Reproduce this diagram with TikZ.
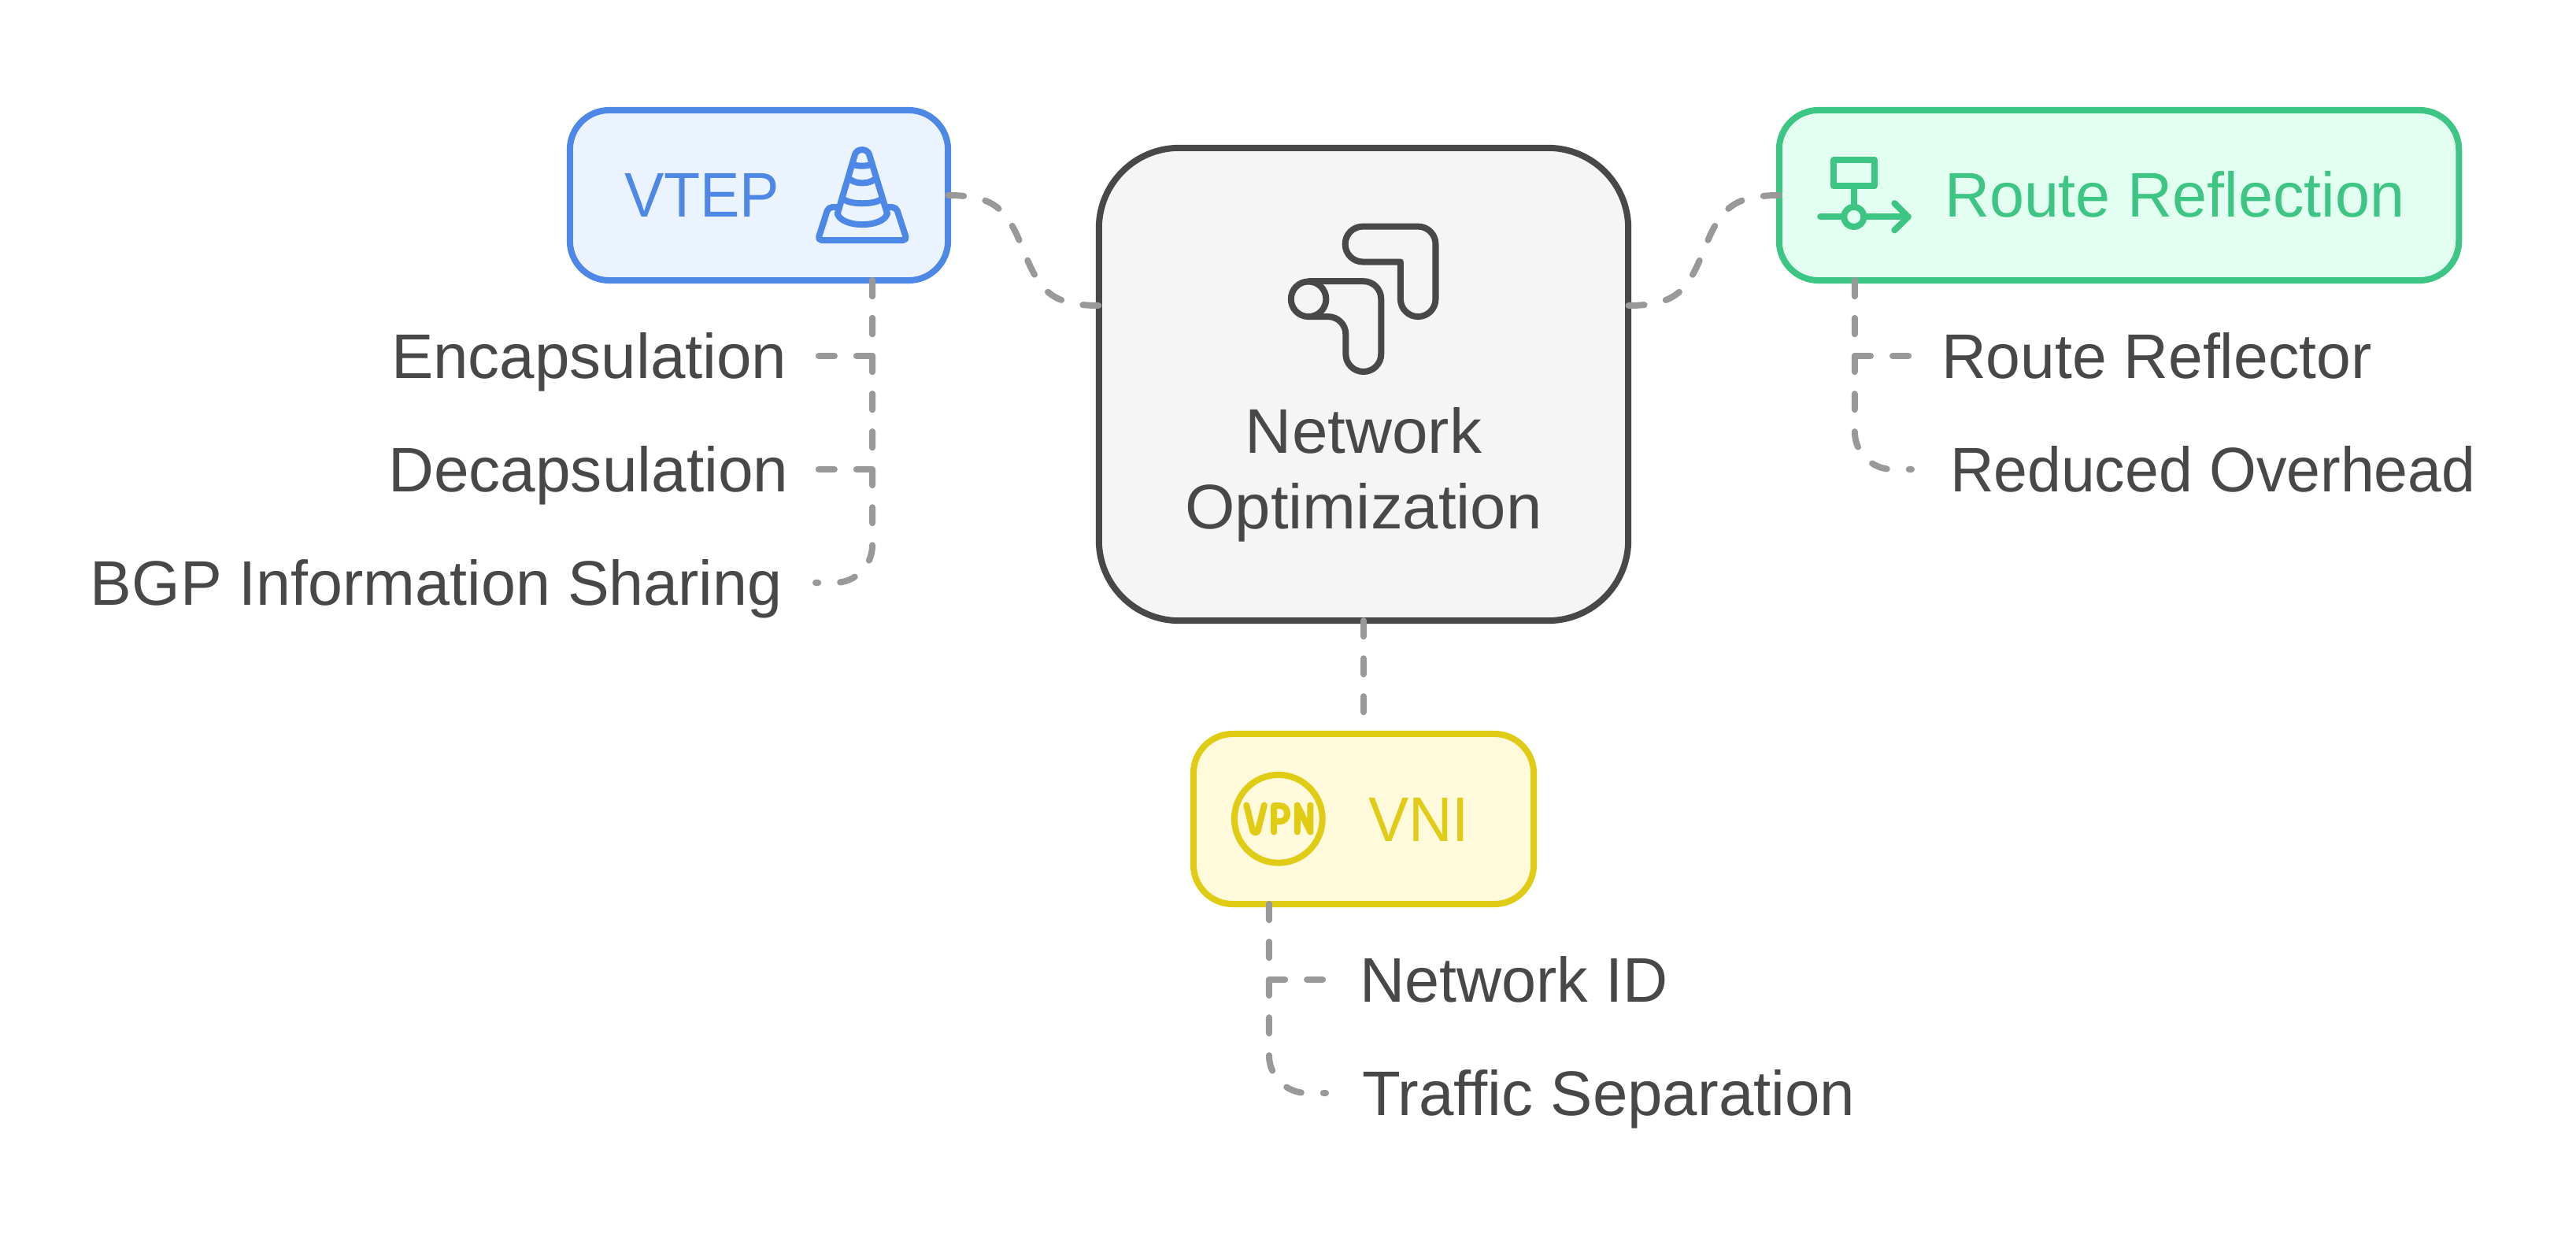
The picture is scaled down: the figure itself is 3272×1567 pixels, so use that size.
\documentclass[tikz,border=0pt]{standalone}
\usepackage{fontspec}
\usepackage{graphicx}
\setmainfont{Liberation Sans}
\definecolor{inkc}{HTML}{484848}
\definecolor{dashc}{HTML}{999999}
\definecolor{bluel}{HTML}{4E88E7}
\definecolor{bluef}{HTML}{EBF3FF}
\definecolor{greenl}{HTML}{3CC583}
\definecolor{greenf}{HTML}{E3FFF1}
\definecolor{yell}{HTML}{E0CB15}
\definecolor{yelf}{HTML}{FFFADC}
\definecolor{centf}{HTML}{F5F5F5}
\newcommand{\fitw}[2]{\resizebox{#1cm}{\height}{#2}}
\tikzset{
  boxn/.style={rounded corners=0.5cm,line width=0.08cm,inner sep=0pt,outer sep=0pt,minimum height=2.16cm,draw},
  lab/.style={font=\fontsize{22.76}{27.3}\selectfont,text=inkc,inner ysep=0pt,outer sep=0pt,text height=0.56cm,text depth=0pt},
  boxlab/.style={font=\fontsize{22.76}{27.3}\selectfont,inner sep=0pt,outer sep=0pt,anchor=base west},
  conn/.style={draw=dashc,line width=0.08cm,line cap=round,dash pattern=on 0.2cm off 0.28cm},
  icon/.style={line width=0.08cm,line cap=round,line join=round},
  zoomz/.style={x=0.0033333cm,y=-0.0033333cm}
}
\begin{document}
\begin{tikzpicture}[x=0.01cm,y=-0.01cm]
\useasboundingbox[fill=white] (0,0) rectangle (3272,1567);
% boxes
\node[boxn,fill=centf,draw=inkc,rounded corners=1.02cm,minimum width=6.72cm,minimum height=6.0cm] (cent) at (1732,488) {};
\node[boxn,fill=bluef,draw=bluel,minimum width=4.80cm] (vtep) at (964,248) {};
\node[boxn,fill=greenf,draw=greenl,minimum width=8.63cm] (route) at (2691.5,248) {};
\node[boxn,fill=yelf,draw=yell,minimum width=4.32cm] (vni) at (1732,1040) {};
% box labels
\node[boxlab,text=bluel] (vteptxt) at (793,276) {\fitw{1.97}{VTEP}};
\node[boxlab,text=greenl] (routetxt) at (2470,276) {\fitw{5.84}{Route Reflection}};
\node[boxlab,text=yell] (vnitxt) at (1738,1068) {\fitw{1.28}{VNI}};
\node[font=\fontsize{22.76}{27.3}\selectfont,text=inkc,inner sep=0pt,outer sep=0pt,align=center,anchor=base] (centtxt) at (1732,672) {\fitw{3.0}{Network}\\\fitw{4.53}{Optimization}};
% leaf labels
\node[lab,anchor=east,inner xsep=0.365cm] (enc) at (1036,452) {\fitw{5.02}{Encapsulation}};
\node[lab,anchor=east,inner xsep=0.345cm] (dec) at (1036,596) {\fitw{5.08}{Decapsulation}};
\node[lab,anchor=east,inner xsep=0.425cm] (bgp) at (1036,740) {\fitw{8.78}{BGP Information Sharing}};
\node[lab,anchor=west,inner xsep=0.42cm] (rr) at (2424,452) {\fitw{5.46}{Route Reflector}};
\node[lab,anchor=west,inner xsep=0.49cm] (ro) at (2428,596) {\fitw{6.67}{Reduced Overhead}};
\node[lab,anchor=west,inner xsep=0.47cm] (nid) at (1680,1244) {\fitw{3.91}{Network ID}};
\node[lab,anchor=west,inner xsep=0.46cm] (ts) at (1684,1388) {\fitw{6.26}{Traffic Separation}};
% main connectors
\draw[conn] (vtep.east) .. controls (1266,248) and (1280,268) .. (1300,318) .. controls (1320,368) and (1334,388) .. (cent.west |- 0,388);
\draw[conn] (route.west) .. controls (2198,248) and (2184,268) .. (2164,318) .. controls (2144,368) and (2130,388) .. (cent.east |- 0,388);
\draw[conn,shorten >=0.06cm] (cent.south) -- (vni.north);
% leaf connectors
\draw[conn] ([xshift=1.44cm]vtep.south) |- (enc.east);
\draw[conn] ([xshift=1.44cm]vtep.south) |- (dec.east);
\draw[conn,rounded corners=0.48cm] ([xshift=1.44cm]vtep.south) |- (bgp.east);
\draw[conn] ([xshift=-3.355cm]route.south) |- (rr.west);
\draw[conn,rounded corners=0.48cm] ([xshift=-3.355cm]route.south) |- (ro.west);
\draw[conn] ([xshift=-1.2cm]vni.south) |- (nid.west);
\draw[conn,rounded corners=0.48cm] ([xshift=-1.2cm]vni.south) |- (ts.west);
% cone icon
\begin{scope}[shift={(700,120)},zoomz,icon,draw=bluel]
\draw (1093,455) -- (1160,228) .. controls (1168,205) and (1206,205) .. (1214,228) -- (1283,455);
\draw (1093,455) .. controls (1110,510) and (1266,510) .. (1283,455);
\draw (1157,268) .. controls (1170,274) and (1204,274) .. (1217,268);
\draw (1143,325) .. controls (1165,342) and (1210,342) .. (1233,325);
\draw (1119,402) .. controls (1150,420) and (1225,420) .. (1257,402);
\draw[rounded corners=0.05cm] (1095,430) -- (1058,430) -- (1018,556) -- (1358,556) -- (1317,430) -- (1283,430);
\end{scope}
% route icon
\begin{scope}[shift={(2220,120)},zoomz,icon,draw=greenl]
\draw (328,250) rectangle (483,350);
\draw (405,350) -- (405,428);
\draw (405,467) circle (38);
\draw (277,467) -- (367,467);
\draw (443,467) -- (612,467);
\draw (560,415) -- (612,467) -- (560,518);
\end{scope}
% VPN icon
\begin{scope}[shift={(1500,920)},zoomz,icon,draw=yell]
\draw (372,360) circle (168);
\draw (250,308) -- (274,405) .. controls (278,415) and (290,415) .. (294,405) -- (318,308);
\draw (355,410) -- (355,310) -- (378,310) .. controls (415,310) and (415,370) .. (378,370) -- (355,370);
\draw (444,410) -- (444,308) -- (494,410) -- (494,308);
\end{scope}
% center icon
\begin{scope}[shift={(1500,250)},zoomz,icon,draw=inkc]
\draw[rounded corners=0.2233cm] (838,248) -- (627,248) -- (627,113) -- (972,113) -- (972,457) -- (838,457) -- (838,248);
\draw[rounded corners=0.2233cm] (488,322) -- (764,322) -- (764,667) -- (629,667) -- (629,457) -- (488,457);
\draw (487,390) circle (67);
\end{scope}
\end{tikzpicture}
\end{document}
